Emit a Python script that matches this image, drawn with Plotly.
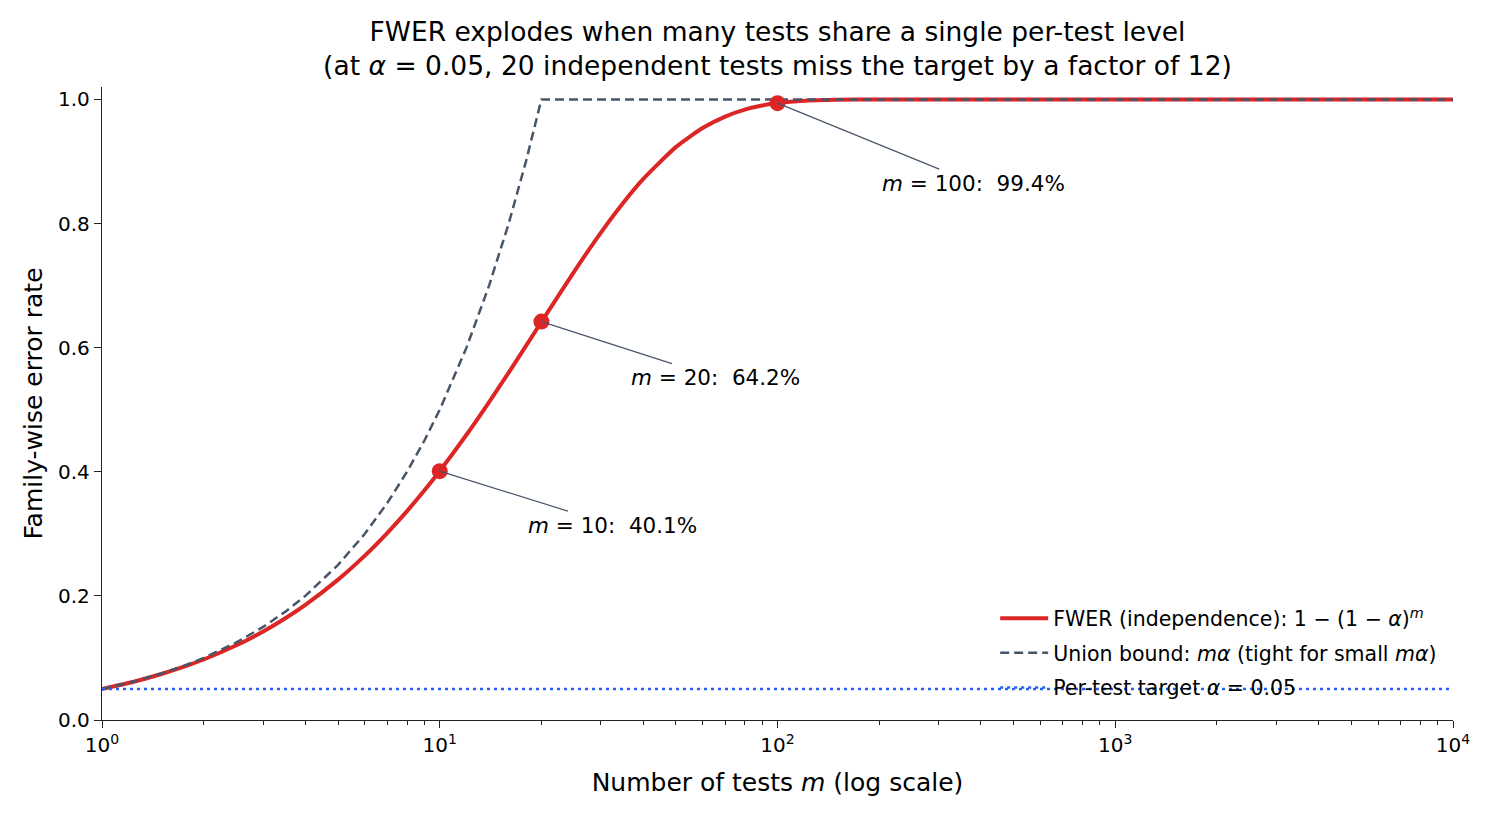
import math
import plotly.graph_objects as go

# values (alpha = 0.05)
M = [1, 1.25, 1.5, 1.75, 2, 2.5, 3, 3.5, 4, 5, 6, 7, 8, 9, 10, 12, 14, 16, 18, 20,
     25, 30, 35, 40, 50, 60, 70, 80, 90, 100, 120, 150, 200, 300, 500, 1000, 3000, 10000]
FWER = [0.0500, 0.0621, 0.0741, 0.0859, 0.0975, 0.1204, 0.1426, 0.1643, 0.1855, 0.2262,
        0.2649, 0.3017, 0.3366, 0.3698, 0.4013, 0.4596, 0.5123, 0.5599, 0.6028, 0.6415,
        0.7226, 0.7854, 0.8339, 0.8715, 0.9231, 0.9539, 0.9724, 0.9835, 0.9901, 0.9941,
        0.9979, 0.9995, 1.0, 1.0, 1.0, 1.0, 1.0, 1.0]
UNION = [0.05, 0.0625, 0.075, 0.0875, 0.1, 0.125, 0.15, 0.175, 0.2, 0.25,
         0.3, 0.35, 0.4, 0.45, 0.5, 0.6, 0.7, 0.8, 0.9, 1.0,
         1.0, 1.0, 1.0, 1.0, 1.0, 1.0, 1.0, 1.0, 1.0, 1.0,
         1.0, 1.0, 1.0, 1.0, 1.0, 1.0, 1.0, 1.0]
TARGET_M = [1, 10000]
TARGET = [0.05, 0.05]

MARK_M = [10, 20, 100]
MARK_FWER = [0.401, 0.642, 0.994]
MARK_LABELS = ["<i>m</i> = 10:  40.1%", "<i>m</i> = 20:  64.2%", "<i>m</i> = 100:  99.4%"]
LABEL_OFFSETS = [(173, 54), (174, 56), (196, 80)]  # pixels, text centre relative to point

XTICKS = [1, 10, 100, 1000, 10000]
XTICK_TEXT = ["10<sup>0</sup>", "10<sup>1</sup>", "10<sup>2</sup>", "10<sup>3</sup>", "10<sup>4</sup>"]

RED = "#dc2626"
SLATE = "#475569"
BLUE = "#2563eb"
FONT = "DejaVu Sans"

fig = go.Figure()
fig.add_trace(go.Scatter(
    x=M, y=FWER, mode="lines", line=dict(color=RED, width=4, shape="spline", smoothing=0.6),
    name="FWER (independence): 1 − (1 − <i>α</i>)<sup><i>m</i></sup>", legendgroup="fwer"
))
fig.add_trace(go.Scatter(
    x=M, y=UNION, mode="lines", line=dict(color=SLATE, width=2.5, dash="9px,5px"),
    name="Union bound: <i>mα</i> (tight for small <i>mα</i>)", legendgroup="union"
))
fig.add_trace(go.Scatter(
    x=TARGET_M, y=TARGET, mode="lines", line=dict(color=BLUE, width=2.5, dash="3px,4px"),
    name="Per-test target <i>α</i> = 0.05", legendgroup="target"
))
fig.add_trace(go.Scatter(
    x=MARK_M, y=MARK_FWER, mode="markers", marker=dict(color=RED, size=16),
    showlegend=False, hoverinfo="skip"
))

# annotations on a log axis take log10 positions
for m, v, txt, (ax, ay) in zip(MARK_M, MARK_FWER, MARK_LABELS, LABEL_OFFSETS):
    fig.add_annotation(
        x=math.log10(m), y=v, xref="x", yref="y", text=txt, showarrow=True,
        arrowhead=0, arrowwidth=1.2, arrowcolor=SLATE, ax=ax, ay=ay,
        font=dict(size=21.5, color="black", family=FONT)
    )

# page body has an 8px margin, so the figure is a bit smaller and margins shifted
fig.update_layout(
    width=1487, height=812,
    template="simple_white",
    paper_bgcolor="white", plot_bgcolor="white",
    font=dict(family=FONT, size=20, color="black"),
    margin=dict(l=94, r=42, t=79, b=100),
    title=dict(
        text="FWER explodes when many tests share a single per-test level<br>"
             "(at <i>α</i> = 0.05, 20 independent tests miss the target by a factor of 12)",
        x=0.5, xref="paper", xanchor="center", y=1 - 33 / 812, yref="container", yanchor="top",
        font=dict(size=26.5, family=FONT)
    ),
    legend=dict(
        x=0.992, y=0.02, xanchor="right", yanchor="bottom",
        bgcolor="rgba(0,0,0,0)", font=dict(size=20.5, family=FONT),
        itemwidth=48, tracegroupgap=5
    ),
    showlegend=True,
)
fig.update_xaxes(
    type="log", range=[0, 4], tickvals=XTICKS, ticktext=XTICK_TEXT,
    showline=True, linecolor="#222", linewidth=1.3, mirror=False,
    ticks="outside", ticklen=7, tickcolor="#222", showgrid=False, zeroline=False,
    minor=dict(ticks="outside", ticklen=4, tickcolor="#222", dtick="D1", showgrid=False),
    title=dict(text="Number of tests <i>m</i> (log scale)", font=dict(size=25), standoff=17)
)
fig.update_yaxes(
    range=[0, 1.02], tickvals=[0, 0.2, 0.4, 0.6, 0.8, 1.0], tickformat=".1f",
    showline=True, linecolor="#222", linewidth=1.3, mirror=False,
    ticks="outside", ticklen=7, tickcolor="#222", showgrid=False, zeroline=False,
    title=dict(text="Family-wise error rate", font=dict(size=25), standoff=8)
)

fig.write_html("out.html")
